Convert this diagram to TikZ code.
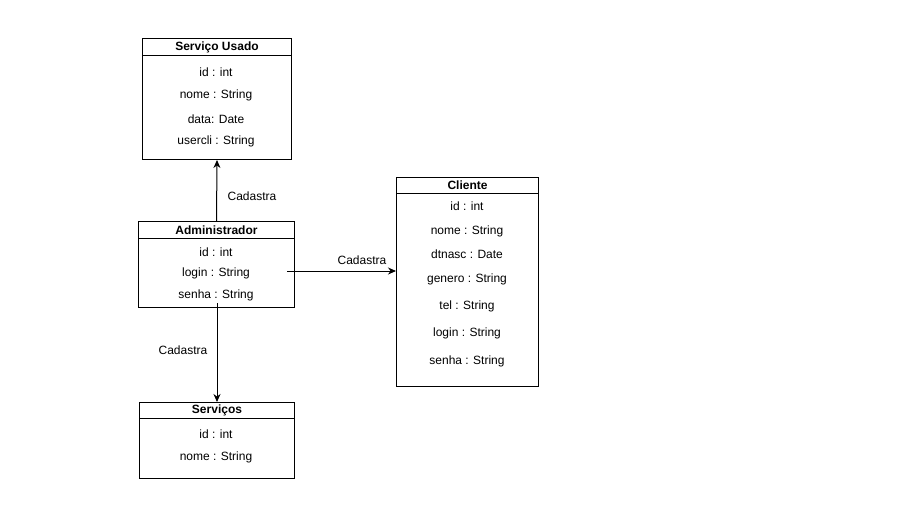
\documentclass[tikz,border=0pt]{standalone}
\usepackage{fontspec}
\setmainfont{Liberation Sans}
\usetikzlibrary{arrows.meta}

\begin{document}
\begin{tikzpicture}[
    x=1pt, y=-1pt,
    font=\fontsize{12}{14}\selectfont,
    box/.style={draw, line width=1pt, anchor=north west, inner sep=0pt},
    head/.style={box, font=\fontsize{12}{14}\selectfont\bfseries},
    attr/.style={inner sep=1pt, yshift=-2pt},
    line/.style={line width=1pt, -{Stealth[length=8pt, width=7pt]}}
]
    \useasboundingbox (0,0) rectangle (913,507);

    % Classe Serviço Usado
    \node[box, minimum width=149, minimum height=121] (su) at (142,38) {};
    \node[head, minimum width=149, minimum height=17] (suh) at (142,38) {Serviço Usado};
    \node[attr] (suid) at (216,70) {id : int};
    \node[attr] (sunome) at (216,93) {nome : String};
    \node[attr] (sudata) at (216,117) {data: Date};
    \node[attr] (suuser) at (216,139) {usercli : String};

    % Classe Administrador
    \node[box, minimum width=156, minimum height=86] (adm) at (138,221) {};
    \node[head, minimum width=156, minimum height=17] (admh) at (138,221) {Administrador};
    \node[attr] (aid) at (216,250) {id : int};
    \node[attr] (alogin) at (216,271) {login : String};
    \node[attr] (asenha) at (216,293) {senha : String};

    % Classe Cliente
    \node[box, minimum width=142, minimum height=209] (cli) at (396,177) {};
    \node[head, minimum width=142, minimum height=16] (clih) at (396,177) {Cliente};
    \node[attr] (cid) at (467,204) {id : int};
    \node[attr] (cnome) at (467,229) {nome : String};
    \node[attr] (cdt) at (467,252) {dtnasc : Date};
    \node[attr] (cgen) at (467,277) {genero : String};
    \node[attr] (ctel) at (467,304) {tel : String};
    \node[attr] (clogin) at (467,331) {login : String};
    \node[attr] (csenha) at (467,359) {senha : String};

    % Classe Serviços
    \node[box, minimum width=155, minimum height=76] (sv) at (139,402) {};
    \node[head, minimum width=155, minimum height=16] (svh) at (139,402) {Serviços};
    \node[attr] (svid) at (216,432) {id : int};
    \node[attr] (svnome) at (216,455) {nome : String};

    % Associações "Cadastra"
    \coordinate (aout) at (287,271);
    \coordinate (ain) at (217,303);
    \draw[line] (adm.north) -- (su.south);
    \draw[line] (aout) -- (aout -| cli.west);
    \draw[line] (ain) -- (ain |- sv.north);
    \node[attr] (l1) at (252,194) {Cadastra};
    \node[attr] (l2) at (362,258) {Cadastra};
    \node[attr] (l3) at (183,348) {Cadastra};
\end{tikzpicture}
\end{document}
